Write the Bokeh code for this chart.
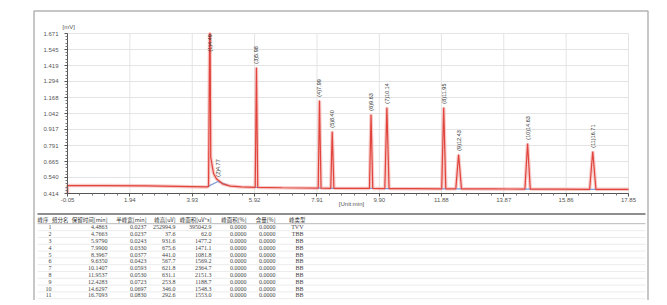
import math
import numpy as np
from bokeh.plotting import figure
from bokeh.models import Range1d, FixedTicker
from bokeh.core.properties import value
from bokeh.embed import file_html
from bokeh.resources import INLINE

# ---------------- data ----------------
x_ticks = [-0.05, 1.94, 3.93, 5.92, 7.91, 9.90, 11.88, 13.87, 15.86, 17.85]
x_tick_labels = ["-0.05", "1.94", "3.93", "5.92", "7.91", "9.90", "11.88", "13.87", "15.86", "17.85"]
y_ticks = [0.414, 0.540, 0.665, 0.791, 0.917, 1.042, 1.168, 1.294, 1.419, 1.545, 1.671]
y_tick_labels = ["0.414", "0.540", "0.665", "0.791", "0.917", "1.042", "1.168", "1.294", "1.419", "1.545", "1.671"]

# chromatogram trace (time [min], signal [mV]); peak 1 is off scale
trace_t = [-0.05, -0.05, 1.0, 2.5, 3.9, 4.40, 4.45, 4.4863, 4.50, 4.52, 4.61, 4.70, 4.7663, 4.90, 5.15,
           5.50, 5.94, 5.979, 6.02, 6.8, 7.95, 7.99, 8.04, 8.35, 8.3967, 8.45, 9.0, 9.585, 9.635, 9.69,
           10.075, 10.1407, 10.21, 11.0, 11.89, 11.9537, 12.02, 12.34, 12.4283, 12.52, 13.5, 14.545,
           14.6297, 14.715, 15.6, 16.61, 16.7093, 16.81, 17.85]
trace_mv = [0.414, 0.477, 0.476, 0.474, 0.468, 0.466, 0.470, 1.671, 1.671, 0.697, 0.571, 0.530, 0.516, 0.490, 0.472,
            0.466, 0.462, 1.404, 0.462, 0.459, 0.456, 1.145, 0.456, 0.455, 0.901, 0.455, 0.454, 0.454, 1.035, 0.454,
            0.453, 1.090, 0.453, 0.452, 0.451, 1.090, 0.451, 0.451, 0.720, 0.451, 0.450, 0.449,
            0.807, 0.449, 0.448, 0.447, 0.744, 0.447, 0.447]

# integration baselines (blue)
base_x = [[4.42, 4.75], [4.75, 5.05], [5.94, 6.02], [7.95, 8.04], [8.35, 8.45], [9.585, 9.69],
          [10.075, 10.21], [11.89, 12.02], [12.34, 12.52], [14.545, 14.715], [16.61, 16.81]]
base_y = [[0.468, 0.508], [0.508, 0.480], [0.462, 0.462], [0.456, 0.456], [0.455, 0.455], [0.454, 0.454],
          [0.453, 0.453], [0.451, 0.451], [0.451, 0.451], [0.449, 0.449], [0.447, 0.447]]

# peak table
peak_no = [1, 2, 3, 4, 5, 6, 7, 8, 9, 10, 11]
peak_rt = [4.4863, 4.7663, 5.9790, 7.9900, 8.3967, 9.6350, 10.1407, 11.9537, 12.4283, 14.6297, 16.7093]
peak_top = [1.671, 0.516, 1.404, 1.145, 0.901, 1.035, 1.090, 1.090, 0.720, 0.807, 0.744]
peak_lbl = ["(1)4.49", "(2)4.77", "(3)5.98", "(4)7.99", "(5)8.40", "(6)9.63", "(7)10.14",
            "(8)11.95", "(9)12.43", "(10)14.63", "(11)16.71"]
half_width = [0.0237, 0.0237, 0.0243, 0.0330, 0.0377, 0.0423, 0.0593, 0.0530, 0.0723, 0.0697, 0.0830]
peak_height = [252994.9, 37.6, 931.6, 675.6, 441.0, 567.7, 621.8, 631.1, 253.8, 346.0, 292.6]
peak_area = [395042.9, 62.0, 1477.2, 1471.1, 1081.8, 1569.2, 2364.7, 2151.3, 1188.7, 1548.3, 1553.0]
area_pct = [0.0] * 11
content_pct = [0.0] * 11
peak_type = ["TVV", "TBB", "BB", "BB", "BB", "BB", "BB", "BB", "BB", "BB", "BB"]
headers = ["峰序", "组分名", "保留时间[min]", "半峰宽[min]", "峰高[uV]", "峰面积[uV*s]", "峰面积[%]", "含量[%]", "峰类型"]

FONT = value("Liberation Sans")
CJK = value("Noto Sans CJK SC")
SERIF = value("Liberation Serif")

# ---------------- layout geometry (page pixels) ----------------
W, H = 662, 300
PX_L, PX_R, PY_T, PY_B = 0, W, 0, H
X0_PX, X1_PX = 67, 628      # where first / last x tick sit
Y0_PX, Y1_PX = 193, 33      # where first / last y tick sit
sx = (X1_PX - X0_PX) / (x_ticks[-1] - x_ticks[0])
sy = (Y0_PX - Y1_PX) / (y_ticks[-1] - y_ticks[0])
xr = Range1d(x_ticks[0] - (X0_PX - PX_L) / sx, x_ticks[-1] + (PX_R - X1_PX) / sx)
yr = Range1d(y_ticks[0] - (PY_B - Y0_PX) / sy, y_ticks[-1] + (Y1_PX - PY_T) / sy)

p = figure(width=W, height=H, x_range=xr, y_range=yr, output_backend="svg", toolbar_location=None,
           min_border=0, min_border_left=0, min_border_right=0, min_border_top=0, min_border_bottom=0)
p.extra_x_ranges = {"px": Range1d(PX_L, PX_R)}
p.extra_y_ranges = {"py": Range1d(PY_B, PY_T)}
p.outline_line_color = None
p.background_fill_color = "white"
p.border_fill_color = "white"
p.xgrid.visible = False
p.ygrid.visible = False

xminor = []
for a, b in zip(x_ticks[:-1], x_ticks[1:]):
    xminor += list(np.linspace(a, b, 6)[1:-1])
yminor = []
for a, b in zip(y_ticks[:-1], y_ticks[1:]):
    yminor += list(np.linspace(a, b, 6)[1:-1])

xa = p.xaxis[0]
ya = p.yaxis[0]
xa.fixed_location = y_ticks[0]
ya.fixed_location = x_ticks[0]
xa.bounds = (x_ticks[0], x_ticks[-1])
ya.bounds = (y_ticks[0], y_ticks[-1])
xa.ticker = FixedTicker(ticks=x_ticks, minor_ticks=xminor)
ya.ticker = FixedTicker(ticks=y_ticks, minor_ticks=yminor)
xa.major_label_overrides = dict(zip(x_ticks, x_tick_labels))
ya.major_label_overrides = dict(zip(y_ticks, y_tick_labels))
for ax in (xa, ya):
    ax.axis_line_color = "#555555"
    ax.major_tick_line_color = "#555555"
    ax.minor_tick_line_color = "#777777"
    ax.major_tick_in = 0
    ax.major_tick_out = 3
    ax.minor_tick_in = 0
    ax.minor_tick_out = 2
    ax.major_label_text_font = "Liberation Sans"
    ax.major_label_text_font_size = "6px"
    ax.major_label_text_color = "#555555"
xa.major_label_text_align = "left"
xa.major_label_standoff = 1
ya.major_label_standoff = 6

# grid lines at the ticks, limited to the plotting area
p.segment(x0=x_ticks, y0=[y_ticks[0]] * len(x_ticks), x1=x_ticks, y1=[y_ticks[-1]] * len(x_ticks),
          line_color="#e4e4e4", line_width=1)
p.segment(x0=[x_ticks[0]] * len(y_ticks), y0=y_ticks, x1=[x_ticks[-1]] * len(y_ticks), y1=y_ticks,
          line_color="#e4e4e4", line_width=1)

# trace
p.line(trace_t, trace_mv, line_color="#f3b3b0", line_width=3.5, line_alpha=0.7)
p.multi_line(base_x, base_y, line_color="#7f9bd8", line_width=1.2)
p.line(trace_t, trace_mv, line_color="#e0443c", line_width=1.2)

lx = peak_rt[1:]
ly = [v + 0.03 for v in peak_top[1:]]
p.text(x=lx, y=ly, text=peak_lbl[1:], angle=math.pi / 2, text_align="left", text_baseline="middle",
       text_font=FONT, text_font_size="5.5px", text_color="#333333")
p.text(x=[peak_rt[0]], y=[peak_top[0] - 0.005], text=[peak_lbl[0]], angle=math.pi / 2, text_align="right",
       text_baseline="middle", text_font=FONT, text_font_size="5.5px", text_color="#333333")

# ---------------- panel, axis titles, table (page pixel coordinates) ----------------
R = dict(x_range_name="px", y_range_name="py")
p.line([33.5, 33.5, 647.5, 647.5], [310, 10.5, 10.5, 310], line_color="#b4b4b4", line_width=1.5, **R)

p.text(x=[62], y=[26], text=["[mV]"], text_align="left", text_baseline="middle",
       text_font=FONT, text_font_size="6px", text_color="#555555", **R)
p.text(x=[351], y=[203], text=["[Unit:min]"], text_align="center", text_baseline="middle",
       text_font=FONT, text_font_size="6px", text_color="#555555", **R)

row_y0 = 226.8
row_h = 6.8
p.line([37, 645], [213.5, 213.5], line_color="#6a6a6a", line_width=1.5, **R)
p.line([37, 645], [223.2, 223.2], line_color="#b8b8b8", line_width=1, **R)
for i in range(len(peak_no)):
    yy = row_y0 + i * row_h + row_h / 2
    p.line([37, 645], [yy, yy], line_color="#ececec", line_width=1, **R)

head_x = [48, 68, 107, 146, 175, 211, 246, 275, 305]
p.text(x=head_x, y=[219] * len(headers), text=headers, text_align="right", text_baseline="middle",
       text_font=CJK, text_font_size="5.5px", text_color="#333333", **R)

rows_y = [row_y0 + i * row_h for i in range(len(peak_no))]
cols = [
    (51, [str(n) for n in peak_no]),
    (107, [f"{v:.4f}" for v in peak_rt]),
    (146, [f"{v:.4f}" for v in half_width]),
    (175, [f"{v:.1f}" for v in peak_height]),
    (211, [f"{v:.1f}" for v in peak_area]),
    (246, [f"{v:.4f}" for v in area_pct]),
    (275, [f"{v:.4f}" for v in content_pct]),
    (303, peak_type),
]
for cx, vals in cols:
    p.text(x=[cx] * len(vals), y=rows_y, text=vals, text_align="right", text_baseline="middle",
           text_font=SERIF, text_font_size="6px", text_color="#444444", **R)

open("out.html", "w").write(file_html(p, INLINE))
